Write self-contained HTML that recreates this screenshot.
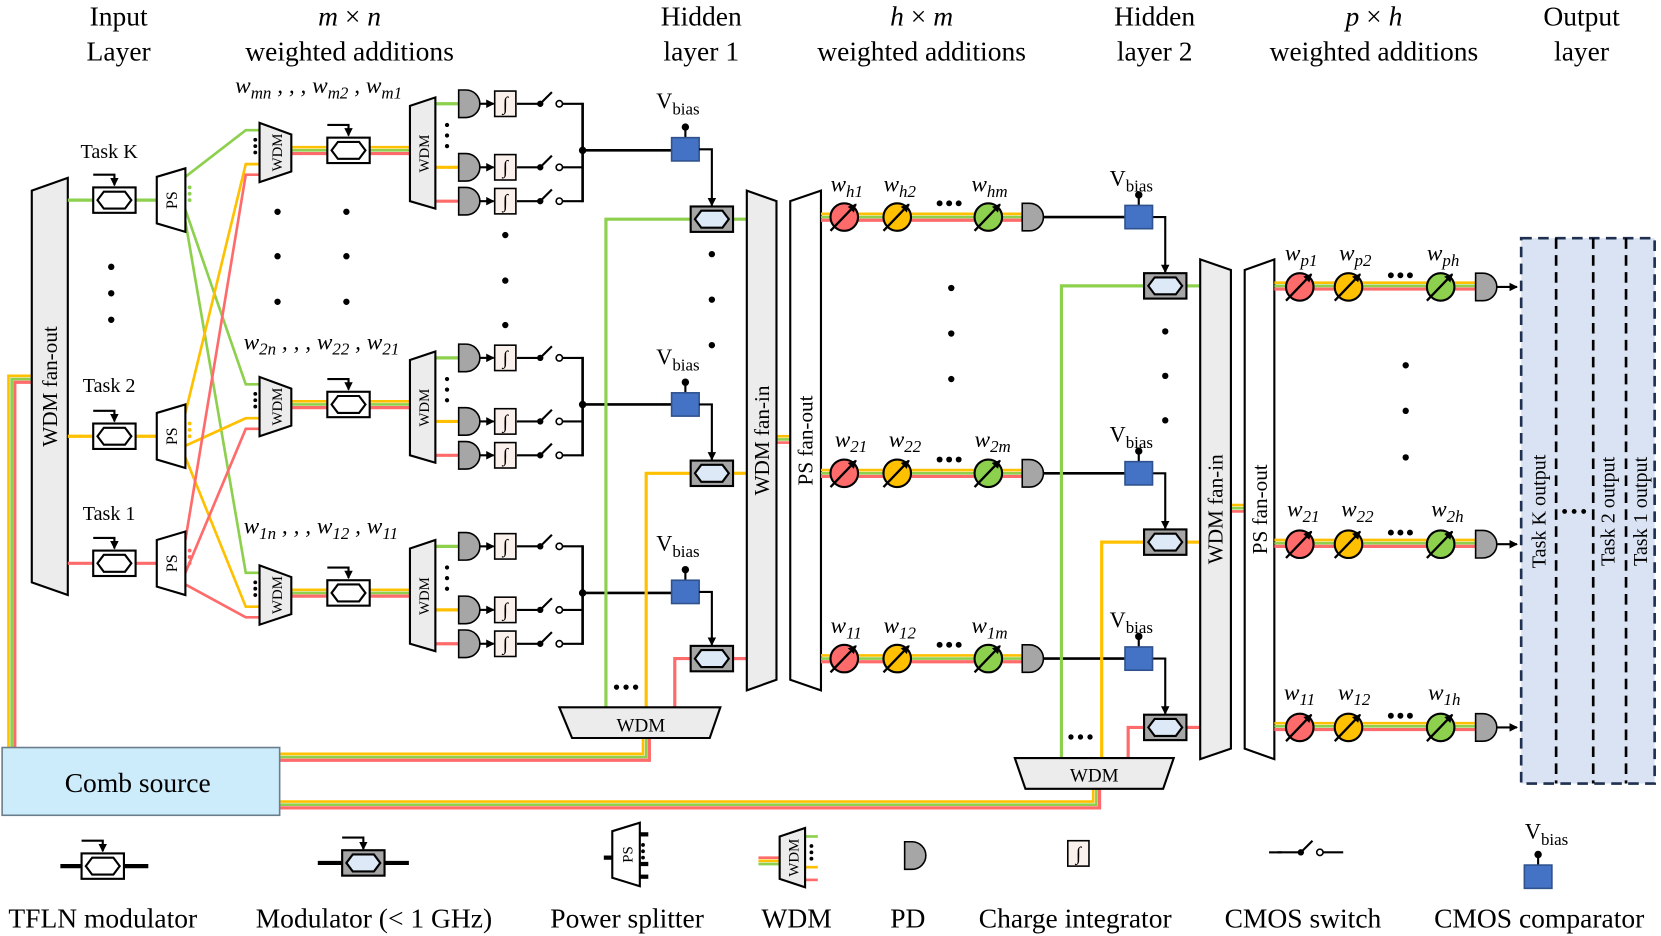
<!DOCTYPE html>
<html><head><meta charset="utf-8"><style>
html,body{margin:0;padding:0;background:#fff;}
svg{display:block;font-family:"Liberation Serif",serif;}
</style></head><body>
<svg width="1661" height="936" viewBox="0 0 1568 884" preserveAspectRatio="none" xmlns="http://www.w3.org/2000/svg">
<defs>
<marker id="ah" markerWidth="8" markerHeight="8" refX="7" refY="4" orient="auto" markerUnits="userSpaceOnUse"><path d="M0,0 L8,4 L0,8 Z" fill="#000"/></marker>
<g id="tfln"><rect x="-20" y="-12" width="40" height="24" fill="#fff" stroke="#000" stroke-width="2"/><polygon points="-16,0 -10,-8 10,-8 16,0 10,8 -10,8" fill="#fff" stroke="#000" stroke-width="2"/><path d="M-20,-24 H0 V-14" fill="none" stroke="#000" stroke-width="2" marker-end="url(#ah)"/></g>
<g id="mod"><rect x="-20" y="-12" width="40" height="24" fill="#a6a6a6" stroke="#000" stroke-width="2"/><polygon points="-16,0 -10,-8 10,-8 16,0 10,8 -10,8" fill="#dde9f6" stroke="#000" stroke-width="2"/></g>
<path id="pd" d="M0,-13 H7 A13 13 0 0 1 7,13 H0 Z" fill="#a6a6a6" stroke="#000" stroke-width="1.5"/>
<g id="integ"><rect x="-10" y="-12" width="20" height="24" fill="#fbf1ec" stroke="#000" stroke-width="1.5"/><text x="0" y="6" font-size="18" text-anchor="middle" font-style="italic">∫</text></g>
<g id="sw"><line x1="0" y1="0" x2="22" y2="0" stroke="#000" stroke-width="2"/><circle cx="22" cy="0" r="3" fill="#000"/><line x1="22" y1="0" x2="33" y2="-11" stroke="#000" stroke-width="2"/><circle cx="40" cy="0" r="3" fill="#fff" stroke="#000" stroke-width="1.5"/><line x1="43" y1="0" x2="62" y2="0" stroke="#000" stroke-width="2"/></g>
<g id="cmp"><line x1="0" y1="-11" x2="0" y2="-20" stroke="#000" stroke-width="2"/><circle cx="0" cy="-21" r="3.5" fill="#000"/><rect x="-13" y="-11" width="26" height="22" fill="#4472c4" stroke="#2f528f" stroke-width="1.5"/></g>
<g id="wt"><circle cx="0" cy="0" r="13" stroke="#000" stroke-width="2"/><line x1="-13" y1="13" x2="11" y2="-12" stroke="#000" stroke-width="2.2" marker-end="url(#ah)"/></g>
</defs>

<!-- titles -->
<g font-size="26" text-anchor="middle">
<text x="112" y="24">Input</text><text x="112" y="57">Layer</text>
<text x="330" y="24" font-style="italic">m <tspan font-style="normal">×</tspan> n</text><text x="330" y="57">weighted additions</text>
<text x="662" y="24">Hidden</text><text x="662" y="57">layer 1</text>
<text x="870" y="24" font-style="italic">h <tspan font-style="normal">×</tspan> m</text><text x="870" y="57">weighted additions</text>
<text x="1090" y="24">Hidden</text><text x="1090" y="57">layer 2</text>
<text x="1297" y="24" font-style="italic">p <tspan font-style="normal">×</tspan> h</text><text x="1297" y="57">weighted additions</text>
<text x="1493" y="24">Output</text><text x="1493" y="57">layer</text>
</g>

<!-- comb source bundles -->
<g fill="none" stroke-width="2.5">
<path d="M8,706 V355 H30" stroke="#ffc000"/><path d="M11,706 V358 H30" stroke="#8dd04d"/><path d="M14,706 V361 H30" stroke="#ff6b6b" stroke-width="3"/>
<path d="M264,712 H607 V697" stroke="#ffc000"/><path d="M264,715 H610 V697" stroke="#8dd04d"/><path d="M264,718 H613 V697" stroke="#ff6b6b" stroke-width="3"/>
<path d="M264,757 H1032 V745" stroke="#ffc000"/><path d="M264,760 H1035 V745" stroke="#8dd04d"/><path d="M264,763 H1038 V745" stroke="#ff6b6b" stroke-width="3"/>
</g>
<rect x="2" y="706" width="262" height="64" fill="#ccecfb" stroke="#6a7d8c" stroke-width="1.5"/>
<text x="130" y="748" font-size="26" text-anchor="middle">Comb source</text>

<!-- WDM fan-out -->
<polygon points="30,180 64,168 64,562 30,550" fill="#ececec" stroke="#000" stroke-width="2"/>
<text transform="translate(54,365) rotate(-90)" font-size="20" text-anchor="middle">WDM fan-out</text>

<!-- input rows -->
<g stroke-width="3">
<line x1="64" y1="189" x2="148" y2="189" stroke="#8dd04d"/>
<line x1="64" y1="412" x2="148" y2="412" stroke="#ffc000"/>
<line x1="64" y1="532" x2="148" y2="532" stroke="#ff6b6b"/>
</g>
<use href="#tfln" x="108" y="189"/><use href="#tfln" x="108" y="412"/><use href="#tfln" x="108" y="532"/>
<g font-size="19" text-anchor="middle"><text x="103" y="149">Task K</text><text x="103" y="370">Task 2</text><text x="103" y="491">Task 1</text></g>
<g fill="#000"><circle cx="105" cy="252" r="3"/><circle cx="105" cy="277" r="3"/><circle cx="105" cy="302" r="3"/></g>

<!-- cross connections -->
<g fill="none" stroke-width="2.5">
<polyline points="175,167 232,123 247,123" stroke="#8dd04d"/>
<polyline points="175,198 232,363 247,363" stroke="#8dd04d"/>
<polyline points="175,209 232,541 247,541" stroke="#8dd04d"/>
<polyline points="175,390 232,155 247,155" stroke="#ffc000"/>
<polyline points="175,421 232,395 247,395" stroke="#ffc000"/>
<polyline points="175,432 232,573 247,573" stroke="#ffc000"/>
<polyline points="175,510 232,165 247,165" stroke="#ff6b6b"/>
<polyline points="175,541 232,405 247,405" stroke="#ff6b6b"/>
<polyline points="175,552 232,583 247,583" stroke="#ff6b6b"/>
</g>
<!-- PS -->
<polygon points="148,167 175,159 175,219 148,211" fill="#fff" stroke="#000" stroke-width="2"/><text transform="translate(167,189) rotate(-90)" font-size="15" text-anchor="middle">PS</text>
<polygon points="148,390 175,382 175,442 148,434" fill="#fff" stroke="#000" stroke-width="2"/><text transform="translate(167,412) rotate(-90)" font-size="15" text-anchor="middle">PS</text>
<polygon points="148,510 175,502 175,562 148,554" fill="#fff" stroke="#000" stroke-width="2"/><text transform="translate(167,532) rotate(-90)" font-size="15" text-anchor="middle">PS</text>
<g fill="#8dd04d"><circle cx="179" cy="177" r="1.8"/><circle cx="179" cy="183" r="1.8"/><circle cx="179" cy="189" r="1.8"/></g>
<g fill="#ffc000"><circle cx="179" cy="400" r="1.8"/><circle cx="179" cy="406" r="1.8"/><circle cx="179" cy="412" r="1.8"/></g>
<g fill="#ff6b6b"><circle cx="179" cy="520" r="1.8"/><circle cx="179" cy="526" r="1.8"/><circle cx="179" cy="532" r="1.8"/></g>

<!-- stage-1 row groups -->
<g id="row1">
<g stroke-width="2.5"><line x1="275" y1="139" x2="387" y2="139" stroke="#ffc000"/><line x1="275" y1="142" x2="387" y2="142" stroke="#8dd04d"/><line x1="275" y1="145" x2="387" y2="145" stroke="#ff6b6b" stroke-width="3"/></g>
<polygon points="245,116 275,127 275,162 245,172" fill="#ececec" stroke="#000" stroke-width="2"/>
<text transform="translate(266,144) rotate(-90)" font-size="14" text-anchor="middle">WDM</text>
<g fill="#000"><circle cx="241" cy="132" r="1.8"/><circle cx="241" cy="138" r="1.8"/><circle cx="241" cy="144" r="1.8"/></g>
<use href="#tfln" x="329" y="142"/>
<g stroke-width="3"><line x1="411" y1="98" x2="433" y2="98" stroke="#8dd04d"/><line x1="411" y1="158" x2="433" y2="158" stroke="#ffc000"/><line x1="411" y1="190" x2="433" y2="190" stroke="#ff6b6b"/></g>
<polygon points="387,100 411,92 411,197 387,190" fill="#ececec" stroke="#000" stroke-width="2"/>
<text transform="translate(405,145) rotate(-90)" font-size="14" text-anchor="middle">WDM</text>
<g fill="#000"><circle cx="422" cy="118" r="2"/><circle cx="422" cy="128" r="2"/><circle cx="422" cy="138" r="2"/></g>
<use href="#pd" x="433" y="98"/><use href="#pd" x="433" y="158"/><use href="#pd" x="433" y="190"/>
<g stroke="#000" stroke-width="2"><line x1="453" y1="98" x2="466" y2="98" marker-end="url(#ah)"/><line x1="453" y1="158" x2="466" y2="158" marker-end="url(#ah)"/><line x1="453" y1="190" x2="466" y2="190" marker-end="url(#ah)"/></g>
<use href="#integ" x="477" y="98"/><use href="#integ" x="477" y="158"/><use href="#integ" x="477" y="190"/>
<use href="#sw" x="488" y="98"/><use href="#sw" x="488" y="158"/><use href="#sw" x="488" y="190"/>
<line x1="550" y1="97" x2="550" y2="191" stroke="#000" stroke-width="2.5"/>
<circle cx="550" cy="142" r="3.5" fill="#000"/>
<line x1="550" y1="142" x2="634" y2="142" stroke="#000" stroke-width="2.5"/>
</g>
<use href="#row1" y="240"/>
<use href="#row1" y="418"/>
<use href="#cmp" x="647" y="141"/><use href="#cmp" x="647" y="382"/><use href="#cmp" x="647" y="559"/>
<g font-size="21" text-anchor="middle"><text x="640" y="102">V<tspan font-size="16" dy="6">bias</tspan></text><text x="640" y="344">V<tspan font-size="16" dy="6">bias</tspan></text><text x="640" y="520">V<tspan font-size="16" dy="6">bias</tspan></text></g>
<g font-size="22" font-style="italic">
<text x="222" y="88">w<tspan font-size="16" dy="5">mn</tspan><tspan dy="-5"> , , , w</tspan><tspan font-size="16" dy="5">m2</tspan><tspan dy="-5"> , w</tspan><tspan font-size="16" dy="5">m1</tspan></text>
<text x="230" y="330">w<tspan font-size="16" dy="5">2n</tspan><tspan dy="-5"> , , , w</tspan><tspan font-size="16" dy="5">22</tspan><tspan dy="-5"> , w</tspan><tspan font-size="16" dy="5">21</tspan></text>
<text x="230" y="504">w<tspan font-size="16" dy="5">1n</tspan><tspan dy="-5"> , , , w</tspan><tspan font-size="16" dy="5">12</tspan><tspan dy="-5"> , w</tspan><tspan font-size="16" dy="5">11</tspan></text>
</g>
<g fill="#000">
<circle cx="262" cy="200" r="3"/><circle cx="262" cy="242" r="3"/><circle cx="262" cy="285" r="3"/>
<circle cx="327" cy="200" r="3"/><circle cx="327" cy="242" r="3"/><circle cx="327" cy="285" r="3"/>
<circle cx="477" cy="222" r="3"/><circle cx="477" cy="265" r="3"/><circle cx="477" cy="307" r="3"/>
<circle cx="672" cy="240" r="3"/><circle cx="672" cy="283" r="3"/><circle cx="672" cy="326" r="3"/>
</g>

<!-- hidden layer 1 -->
<g fill="none" stroke-width="3">
<path d="M572,668 V207 H652" stroke="#8dd04d"/>
<path d="M610,668 V447 H652" stroke="#ffc000"/>
<path d="M637,668 V622 H652" stroke="#ff6b6b"/>
<line x1="692" y1="207" x2="705" y2="207" stroke="#8dd04d"/>
<line x1="692" y1="447" x2="705" y2="447" stroke="#ffc000"/>
<line x1="692" y1="622" x2="705" y2="622" stroke="#ff6b6b"/>
</g>
<g fill="none" stroke="#000" stroke-width="2">
<path d="M660,141 H672 V194" marker-end="url(#ah)"/>
<path d="M660,382 H672 V434" marker-end="url(#ah)"/>
<path d="M660,559 H672 V609" marker-end="url(#ah)"/>
</g>
<use href="#mod" x="672" y="207"/><use href="#mod" x="672" y="447"/><use href="#mod" x="672" y="622"/>
<polygon points="528,668 680,668 670,697 540,697" fill="#ececec" stroke="#000" stroke-width="2"/>
<text x="605" y="691" font-size="18" text-anchor="middle">WDM</text>
<g fill="#000"><circle cx="582" cy="649" r="2.5"/><circle cx="591" cy="649" r="2.5"/><circle cx="600" cy="649" r="2.5"/></g>

<!-- fan-in / ps fan-out 1 -->
<g stroke-width="2.5"><line x1="733" y1="412" x2="746" y2="412" stroke="#ffc000"/><line x1="733" y1="415" x2="746" y2="415" stroke="#8dd04d"/><line x1="733" y1="418" x2="746" y2="418" stroke="#ff6b6b"/></g>
<polygon points="705,180 733,190 733,642 705,652" fill="#ececec" stroke="#000" stroke-width="2"/>
<text transform="translate(726,416) rotate(-90)" font-size="20" text-anchor="middle">WDM fan-in</text>
<polygon points="746,190 775,180 775,652 746,642" fill="#fff" stroke="#000" stroke-width="2"/>
<text transform="translate(767,416) rotate(-90)" font-size="20" text-anchor="middle">PS fan-out</text>

<!-- stage-2 rows -->
<g id="row2">
<g stroke-width="2.5"><line x1="775" y1="202" x2="965" y2="202" stroke="#ffc000"/><line x1="775" y1="205" x2="965" y2="205" stroke="#8dd04d"/><line x1="775" y1="208" x2="965" y2="208" stroke="#ff6b6b" stroke-width="3"/></g>
<use href="#wt" x="797" y="205" fill="#ff6b6b"/><use href="#wt" x="847" y="205" fill="#ffc000"/><use href="#wt" x="933" y="205" fill="#8dd04d"/>
<g fill="#000"><circle cx="887" cy="192" r="2.8"/><circle cx="896" cy="192" r="2.8"/><circle cx="905" cy="192" r="2.8"/></g>
<use href="#pd" x="965" y="205"/>
<line x1="985" y1="205" x2="1062" y2="205" stroke="#000" stroke-width="2.5"/>
<path d="M1088,205 H1100 V257" fill="none" stroke="#000" stroke-width="2" marker-end="url(#ah)"/>
<use href="#cmp" x="1075" y="205"/>
<text x="1068" y="175" font-size="21" text-anchor="middle">V<tspan font-size="16" dy="6">bias</tspan></text>
</g>
<use href="#row2" y="242"/>
<use href="#row2" y="417"/>
<g font-size="22" font-style="italic">
<text x="784" y="181">w<tspan font-size="16" dy="5">h1</tspan></text><text x="834" y="181">w<tspan font-size="16" dy="5">h2</tspan></text><text x="917" y="181">w<tspan font-size="16" dy="5">hm</tspan></text>
<text x="788" y="422">w<tspan font-size="16" dy="5">21</tspan></text><text x="839" y="422">w<tspan font-size="16" dy="5">22</tspan></text><text x="920" y="422">w<tspan font-size="16" dy="5">2m</tspan></text>
<text x="784" y="598">w<tspan font-size="16" dy="5">11</tspan></text><text x="834" y="598">w<tspan font-size="16" dy="5">12</tspan></text><text x="917" y="598">w<tspan font-size="16" dy="5">1m</tspan></text>
</g>
<g fill="#000">
<circle cx="898" cy="272" r="3"/><circle cx="898" cy="315" r="3"/><circle cx="898" cy="358" r="3"/>
<circle cx="1100" cy="313" r="3"/><circle cx="1100" cy="355" r="3"/><circle cx="1100" cy="397" r="3"/>
</g>

<!-- hidden layer 2 -->
<g fill="none" stroke-width="3">
<path d="M1002,716 V270 H1080" stroke="#8dd04d"/>
<path d="M1040,716 V512 H1080" stroke="#ffc000"/>
<path d="M1065,716 V687 H1080" stroke="#ff6b6b"/>
<line x1="1120" y1="270" x2="1133" y2="270" stroke="#8dd04d"/>
<line x1="1120" y1="512" x2="1133" y2="512" stroke="#ffc000"/>
<line x1="1120" y1="687" x2="1133" y2="687" stroke="#ff6b6b"/>
</g>
<use href="#mod" x="1100" y="270"/><use href="#mod" x="1100" y="512"/><use href="#mod" x="1100" y="687"/>
<polygon points="958,716 1108,716 1098,745 968,745" fill="#ececec" stroke="#000" stroke-width="2"/>
<text x="1033" y="738" font-size="18" text-anchor="middle">WDM</text>
<g fill="#000"><circle cx="1011" cy="696" r="2.5"/><circle cx="1020" cy="696" r="2.5"/><circle cx="1029" cy="696" r="2.5"/></g>

<g stroke-width="2.5"><line x1="1162" y1="477" x2="1175" y2="477" stroke="#ffc000"/><line x1="1162" y1="480" x2="1175" y2="480" stroke="#8dd04d"/><line x1="1162" y1="483" x2="1175" y2="483" stroke="#ff6b6b"/></g>
<polygon points="1133,245 1162,255 1162,707 1133,717" fill="#ececec" stroke="#000" stroke-width="2"/>
<text transform="translate(1154,481) rotate(-90)" font-size="20" text-anchor="middle">WDM fan-in</text>
<polygon points="1175,255 1203,245 1203,717 1175,707" fill="#fff" stroke="#000" stroke-width="2"/>
<text transform="translate(1196,481) rotate(-90)" font-size="20" text-anchor="middle">PS fan-out</text>

<!-- output rows -->
<g id="row3">
<g stroke-width="2.5"><line x1="1203" y1="267" x2="1393" y2="267" stroke="#ffc000"/><line x1="1203" y1="270" x2="1393" y2="270" stroke="#8dd04d"/><line x1="1203" y1="273" x2="1393" y2="273" stroke="#ff6b6b" stroke-width="3"/></g>
<use href="#wt" x="1227" y="271" fill="#ff6b6b"/><use href="#wt" x="1273" y="271" fill="#ffc000"/><use href="#wt" x="1360" y="271" fill="#8dd04d"/>
<g fill="#000"><circle cx="1313" cy="260" r="2.8"/><circle cx="1322" cy="260" r="2.8"/><circle cx="1331" cy="260" r="2.8"/></g>
<use href="#pd" x="1393" y="271"/>
<line x1="1413" y1="271" x2="1432" y2="271" stroke="#000" stroke-width="2" marker-end="url(#ah)"/>
</g>
<use href="#row3" y="243"/>
<use href="#row3" y="416"/>
<g font-size="22" font-style="italic">
<text x="1213" y="246">w<tspan font-size="16" dy="5">p1</tspan></text><text x="1264" y="246">w<tspan font-size="16" dy="5">p2</tspan></text><text x="1347" y="246">w<tspan font-size="16" dy="5">ph</tspan></text>
<text x="1215" y="488">w<tspan font-size="16" dy="5">21</tspan></text><text x="1266" y="488">w<tspan font-size="16" dy="5">22</tspan></text><text x="1351" y="488">w<tspan font-size="16" dy="5">2h</tspan></text>
<text x="1212" y="661">w<tspan font-size="16" dy="5">11</tspan></text><text x="1263" y="661">w<tspan font-size="16" dy="5">12</tspan></text><text x="1348" y="661">w<tspan font-size="16" dy="5">1h</tspan></text>
</g>
<g fill="#000"><circle cx="1327" cy="345" r="3"/><circle cx="1327" cy="388" r="3"/><circle cx="1327" cy="432" r="3"/></g>

<!-- output layer -->
<rect x="1436" y="225" width="126" height="515" fill="#dae3f3" stroke="#1f3050" stroke-width="2.5" stroke-dasharray="10,6"/>
<g stroke="#000" stroke-width="2.5" stroke-dasharray="10,6"><line x1="1469" y1="225" x2="1469" y2="740"/><line x1="1504" y1="225" x2="1504" y2="740"/><line x1="1535" y1="225" x2="1535" y2="740"/></g>
<g font-size="19" text-anchor="middle">
<text transform="translate(1459,483) rotate(-90)">Task K output</text>
<text transform="translate(1524,483) rotate(-90)">Task 2 output</text>
<text transform="translate(1555,483) rotate(-90)">Task 1 output</text>
</g>
<g fill="#000"><circle cx="1477" cy="483" r="2.3"/><circle cx="1486" cy="483" r="2.3"/><circle cx="1495" cy="483" r="2.3"/></g>

<!-- legend -->
<g stroke="#000" stroke-width="4"><line x1="57" y1="818" x2="77" y2="818"/><line x1="117" y1="818" x2="140" y2="818"/><line x1="300" y1="815" x2="323" y2="815"/><line x1="363" y1="815" x2="386" y2="815"/></g>
<use href="#tfln" x="97" y="818"/>
<use href="#mod" x="343" y="815"/>
<path d="M323,791 H343 V802" fill="none" stroke="#000" stroke-width="2" marker-end="url(#ah)"/>
<g stroke="#000" stroke-width="4"><line x1="570" y1="810" x2="578" y2="810"/><line x1="604" y1="788" x2="612" y2="788"/><line x1="604" y1="816" x2="612" y2="816"/><line x1="604" y1="828" x2="612" y2="828"/></g>
<polygon points="578,785 604,777 604,837 578,829" fill="#fff" stroke="#000" stroke-width="2"/>
<text transform="translate(597,807) rotate(-90)" font-size="14" text-anchor="middle">PS</text>
<g fill="#000"><circle cx="607" cy="798" r="1.8"/><circle cx="607" cy="804" r="1.8"/><circle cx="607" cy="810" r="1.8"/></g>
<g stroke-width="2.5"><line x1="716" y1="810" x2="736" y2="810" stroke="#ff6b6b"/><line x1="716" y1="813" x2="736" y2="813" stroke="#ffc000"/><line x1="716" y1="816" x2="736" y2="816" stroke="#8dd04d"/>
<line x1="760" y1="790" x2="772" y2="790" stroke="#8dd04d"/><line x1="760" y1="819" x2="772" y2="819" stroke="#ffc000"/><line x1="760" y1="831" x2="772" y2="831" stroke="#ff6b6b"/></g>
<polygon points="736,790 760,782 760,838 736,830" fill="#ececec" stroke="#000" stroke-width="2"/>
<text transform="translate(754,810) rotate(-90)" font-size="14" text-anchor="middle">WDM</text>
<g fill="#000"><circle cx="766" cy="799" r="1.8"/><circle cx="766" cy="805" r="1.8"/><circle cx="766" cy="811" r="1.8"/></g>
<use href="#pd" x="854" y="808"/>
<use href="#integ" x="1018" y="806"/>
<line x1="1198" y1="805" x2="1210" y2="805" stroke="#000" stroke-width="2"/>
<use href="#sw" x="1206" y="805"/>
<use href="#cmp" x="1452" y="828"/>
<text x="1460" y="792" font-size="21" text-anchor="middle">V<tspan font-size="16" dy="6">bias</tspan></text>
<g font-size="26" text-anchor="middle">
<text x="97" y="876">TFLN modulator</text>
<text x="353" y="876">Modulator (&lt; 1 GHz)</text>
<text x="592" y="876">Power splitter</text>
<text x="752" y="876">WDM</text>
<text x="857" y="876">PD</text>
<text x="1015" y="876">Charge integrator</text>
<text x="1230" y="876">CMOS switch</text>
<text x="1453" y="876">CMOS comparator</text>
</g>
</svg>
</body></html>
